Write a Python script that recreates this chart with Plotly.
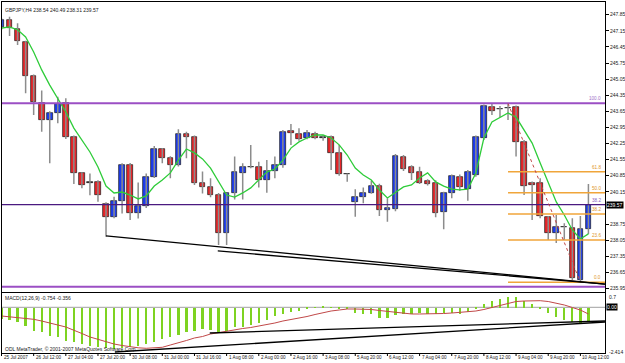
import plotly.graph_objects as go

W, H = 625, 363
FONT = "Liberation Sans"

# ---------------- data ----------------
header_text = "GBPJPY,H4 238.54 240.49 238.31 239.57"
bars = list(range(74))
opens = [247.31, 247.62, 247.23, 246.68, 245.20, 244.02, 243.27, 243.59, 244.00, 242.55,
         240.95, 240.53, 240.59, 239.61, 239.04, 239.76, 241.32, 239.21, 239.53, 240.81,
         242.00, 241.61, 241.32, 242.66, 242.55, 240.55, 240.35, 240.01, 238.37, 240.08,
         240.98, 241.21, 241.21, 240.66, 241.07, 241.32, 242.81, 242.66, 242.50, 242.66,
         242.49, 242.52, 241.85, 240.91, 239.72, 239.94, 240.11, 240.40, 239.36, 239.39,
         241.65, 241.21, 241.03, 240.63, 240.55, 239.29, 240.08, 240.81, 240.26, 240.88,
         242.47, 243.82, 243.74, 243.78, 243.82, 242.33, 240.55, 240.55, 239.07, 238.35,
         238.61, 238.56, 236.32, 238.54]
highs = [247.70, 247.76, 247.48, 246.72, 245.25, 244.55, 243.65, 244.28, 244.22, 242.60,
         241.00, 240.95, 240.65, 239.70, 239.94, 241.39, 241.40, 240.55, 240.95, 242.14,
         242.05, 241.70, 242.87, 242.76, 242.60, 241.03, 240.74, 240.10, 240.10, 241.68,
         241.39, 242.18, 241.46, 241.53, 241.68, 242.84, 243.10, 242.91, 242.84, 242.76,
         242.62, 242.60, 242.19, 240.95, 240.26, 240.34, 240.63, 240.50, 239.87, 241.79,
         241.75, 241.30, 241.24, 240.70, 240.65, 240.15, 240.90, 240.90, 241.10, 242.60,
         243.95, 243.97, 243.88, 243.99, 243.90, 242.40, 240.60, 240.74, 239.10, 239.14,
         238.78, 239.00, 239.10, 240.49]
lows = [247.20, 246.92, 246.53, 244.43, 243.49, 242.76, 241.39, 243.13, 242.45, 240.49,
        240.30, 240.00, 239.72, 238.20, 239.00, 239.21, 238.92, 238.99, 239.45, 240.75,
        241.39, 240.74, 241.25, 241.61, 240.45, 240.08, 239.91, 237.84, 237.84, 239.82,
        239.82, 241.17, 240.34, 240.11, 240.74, 241.20, 242.19, 242.37, 242.43, 242.43,
        242.37, 241.10, 240.85, 240.59, 239.07, 239.65, 240.06, 239.10, 238.85, 239.30,
        241.05, 240.66, 240.49, 240.42, 239.04, 238.52, 239.87, 240.20, 239.76, 240.80,
        242.40, 243.49, 243.40, 243.27, 241.68, 240.01, 238.92, 239.00, 238.05, 237.92,
        238.05, 236.32, 236.22, 238.31]
closes = [247.62, 247.28, 246.72, 245.20, 244.07, 243.27, 243.59, 243.97, 242.55, 240.95,
          240.45, 240.53, 240.01, 239.04, 239.76, 241.32, 239.24, 239.53, 240.81, 242.00,
          241.61, 241.32, 242.66, 242.52, 240.52, 240.35, 240.01, 238.35, 240.08, 241.03,
          241.21, 241.21, 240.66, 241.07, 241.32, 242.77, 242.69, 242.43, 242.69, 242.47,
          242.49, 241.82, 240.91, 240.91, 239.91, 240.11, 240.40, 239.36, 239.43, 241.71,
          241.13, 240.98, 240.55, 240.49, 239.24, 240.08, 240.84, 240.35, 241.00, 242.52,
          243.88, 243.66, 243.74, 243.78, 242.33, 240.40, 240.45, 239.10, 238.35, 238.63,
          238.61, 236.39, 238.52, 239.57]
ma_values = [247.27, 247.32, 247.19, 246.88, 246.23, 245.45, 244.79, 244.23, 243.62, 242.92,
             242.40, 241.88, 241.23, 240.40, 240.10, 240.14, 240.01, 239.84, 239.97, 240.40,
             240.66, 240.97, 241.53, 242.01, 241.84, 241.58, 241.18, 240.58, 240.01, 239.92,
             240.10, 240.32, 240.66, 241.01, 241.14, 241.53, 242.05, 242.32, 242.49, 242.62,
             242.62, 242.49, 242.19, 241.75, 241.18, 240.88, 240.66, 240.23, 239.88, 240.14,
             240.36, 240.45, 240.75, 240.97, 240.58, 240.40, 240.27, 240.23, 240.27, 240.97,
             242.49, 243.19, 243.40, 243.58, 243.40, 242.84, 242.27, 241.40, 240.53, 239.71,
             239.14, 238.49, 238.10, 238.32]
macd_hist = [-0.584, -0.637, -0.760, -0.937, -1.201, -1.289, -1.466, -1.554, -1.730, -1.819,
             -1.907, -1.995, -2.083, -2.118, -2.171, -2.136, -2.048, -1.995, -1.907, -1.819,
             -1.642, -1.554, -1.413, -1.289, -1.201, -1.113, -1.166, -1.289, -1.201, -1.025,
             -1.025, -0.884, -0.813, -0.637, -0.460, -0.319, -0.231, -0.143, -0.072, 0.020,
             0.050, 0.030, -0.020, -0.060, -0.284, -0.319, -0.354, -0.531, -0.531, -0.407,
             -0.319, -0.319, -0.284, -0.319, -0.319, -0.284, -0.284, -0.319, -0.231, -0.054,
             0.175, 0.351, 0.475, 0.598, 0.562, 0.351, 0.210, -0.020, -0.284, -0.496,
             -0.637, -0.760, -0.813, -0.754]
macd_signal = [-0.460, -0.497, -0.529, -0.582, -0.635, -0.725, -0.815, -0.937, -1.042, -1.201,
               -1.386, -1.571, -1.704, -1.836, -1.942, -2.021, -2.090, -2.143, -2.169, -2.153,
               -2.116, -1.995, -1.889, -1.757, -1.624, -1.545, -1.413, -1.333, -1.254, -1.201,
               -1.122, -1.069, -0.989, -0.937, -0.831, -0.725, -0.646, -0.593, -0.487, -0.381,
               -0.275, -0.196, -0.143, -0.090, -0.090, -0.090, -0.116, -0.169, -0.222, -0.275,
               -0.328, -0.354, -0.354, -0.354, -0.344, -0.328, -0.302, -0.275, -0.249, -0.196,
               -0.116, -0.011, 0.122, 0.228, 0.307, 0.333, 0.349, 0.349, 0.307, 0.228,
               0.122, -0.011, -0.143, -0.356]
macd_title = "MACD(12,26,9) -0.754 -0.356"
copyright_text = "ODL MetaTrader, \u00a9 2001-2007 MetaQuotes Software Corp."
time_label_bars = [0, 4, 8, 12, 16, 20, 24, 28, 32, 36, 40, 44, 48, 52, 56, 60, 64, 68, 72]
time_labels = ["25 Jul 2007", "26 Jul 12:00", "27 Jul 04:00", "27 Jul 20:00", "30 Jul 08:00",
               "31 Jul 00:00", "31 Jul 16:00", "1 Aug 08:00", "2 Aug 00:00", "2 Aug 16:00",
               "3 Aug 08:00", "5 Aug 20:00", "6 Aug 12:00", "7 Aug 04:00", "7 Aug 20:00",
               "8 Aug 12:00", "9 Aug 04:00", "9 Aug 20:00", "10 Aug 12:00"]
price_ticks = [247.85, 247.15, 246.45, 245.75, 245.05, 244.35, 243.65, 242.95, 242.25,
               241.55, 240.85, 240.15, 238.75, 238.05, 237.35, 236.65, 235.95]
price_tick_labels = ["247.85", "247.15", "246.45", "245.75", "245.05", "244.35", "243.65",
                     "242.95", "242.25", "241.55", "240.85", "240.15", "238.75", "238.05",
                     "237.35", "236.65", "235.95"]
last_price = 239.57
macd_max_label, macd_min_label = "0.7", "-2.414"
fib_ratios = [0.0, 0.236, 0.382, 0.5, 0.618]
fib_names = ["0.0", "23.6", "38.2", "50.0", "61.8"]
fib_high, fib_low = 243.99, 236.22
fib_high_bar, fib_low_bar = 63, 72
hlines_purple = [244.00, 236.02]
hline_indigo = 239.59
trend_main = [((13.0, 238.23), (75.06, 236.14)), ((26.9, 237.58), (75.06, 236.14))]
trend_macd = [((14.1, -2.365), (75.06, -0.778)), ((25.9, -1.36), (75.06, -0.725))]

# ---------------- geometry (pixels) ----------------
BAR_PX0, BAR_STEP = 1.5, 8.04
PLOT_L, PLOT_R = 2, 605
MAIN_T, MAIN_B = 2, 291.5
SUB_T, SUB_B = 292.5, 353
PRICE_AT0, PX_PER_PRICE = 248.489, 23.0
MACD_ZERO_PX, PX_PER_MACD = 307.3, 18.9

def px2bar(px):
    return (px - BAR_PX0) / BAR_STEP

def bar2paper(b):
    return (BAR_PX0 + BAR_STEP * b) / W

def py2price(py):
    return PRICE_AT0 - py / PX_PER_PRICE

def py2macd(py):
    return (MACD_ZERO_PX - py) / PX_PER_MACD

def pyp(py):
    return 1 - py / H

xrange_ = [px2bar(PLOT_L), px2bar(PLOT_R)]

# ---------------- traces ----------------
fig = go.Figure()

wx, wy = [], []
for b, lo, hi in zip(bars, lows, highs):
    wx += [b, b, None]
    wy += [lo, hi, None]
fig.add_trace(go.Scatter(x=wx, y=wy, mode="lines", line=dict(color="#8c8c8c", width=1.5),
                         hoverinfo="skip", xaxis="x", yaxis="y"))

bases = [min(o, c) for o, c in zip(opens, closes)]
heights = [max(abs(c - o), 0.03) for o, c in zip(opens, closes)]
colors = ["#1d3cf0" if c > o else ("#e8262a" if c < o else "#222222") for o, c in zip(opens, closes)]
fig.add_trace(go.Bar(x=bars, y=heights, base=bases, width=0.7,
                     marker=dict(color=colors, line=dict(color="#1a1a1a", width=0.7)),
                     xaxis="x", yaxis="y"))

fig.add_trace(go.Scatter(x=bars, y=ma_values, mode="lines", line=dict(color="#2fcc3a", width=1.3),
                         xaxis="x", yaxis="y"))

fig.add_trace(go.Bar(x=bars, y=macd_hist, width=0.28, marker=dict(color="#7ed321", line=dict(width=0)),
                     xaxis="x2", yaxis="y2"))
fig.add_trace(go.Scatter(x=bars, y=macd_signal, mode="lines", line=dict(color="#c04848", width=1),
                         xaxis="x2", yaxis="y2"))

# ---------------- shapes ----------------
shapes = []
for lvl in hlines_purple:
    shapes.append(dict(type="line", xref="x domain", x0=0, x1=1, yref="y", y0=lvl, y1=lvl,
                       line=dict(color="#9b4fc4", width=2)))
shapes.append(dict(type="line", xref="x domain", x0=0, x1=1, yref="y", y0=hline_indigo, y1=hline_indigo,
                   line=dict(color="#4a1a80", width=1.2)))
for r in fib_ratios:
    lvl = fib_low + r * (fib_high - fib_low)
    shapes.append(dict(type="line", xref="x", x0=fib_high_bar, x1=xrange_[1], yref="y", y0=lvl, y1=lvl,
                       line=dict(color="#f0a53a", width=1.5)))
shapes.append(dict(type="line", xref="x", x0=fib_high_bar, x1=fib_low_bar, yref="y", y0=fib_high, y1=fib_low,
                   line=dict(color="#c04848", width=1, dash="dot")))
for (x0, y0), (x1, y1) in trend_main:
    shapes.append(dict(type="line", xref="x", yref="y", x0=x0, y0=y0, x1=x1, y1=y1,
                       line=dict(color="black", width=1.3)))
for (x0, y0), (x1, y1) in trend_macd:
    shapes.append(dict(type="line", xref="x2", yref="y2", x0=x0, y0=y0, x1=x1, y1=y1,
                       line=dict(color="black", width=1.3)))
shapes.append(dict(type="line", xref="x2 domain", x0=0, x1=1, yref="y2", y0=0, y1=0,
                   line=dict(color="#a0a0a0", width=1), layer="below"))
for b in time_label_bars:
    shapes.append(dict(type="line", xref="paper", yref="paper", x0=bar2paper(b), x1=bar2paper(b),
                       y0=pyp(SUB_B), y1=pyp(SUB_B + 3), line=dict(color="black", width=1)))

# ---------------- annotations ----------------
ann = []
def txt(text, x, y, xref="paper", yref="paper", xanchor="left", yanchor="middle", size=5,
        color="#202020", **kw):
    ann.append(dict(text=text, x=x, y=y, xref=xref, yref=yref, xanchor=xanchor, yanchor=yanchor,
                    showarrow=False, font=dict(family=FONT, size=size, color=color), **kw))

txt(header_text, 3 / W, pyp(10))
txt(macd_title, 3 / W, pyp(297.7))
txt(copyright_text, 3 / W, pyp(349))
for b, lab in zip(time_label_bars, time_labels):
    txt(lab, bar2paper(b), pyp(357.8), size=4.6)
txt(f"{last_price:.2f}", 606 / W, last_price, yref="y", color="white", bgcolor="black", borderpad=0)
txt(macd_max_label, 607 / W, pyp(296.7))
txt(macd_min_label, 607 / W, pyp(351.5))
txt("0.00", 606 / W, 0, yref="y2", color="white", bgcolor="black", borderpad=0)
for r, name in zip(fib_ratios, fib_names):
    lvl = fib_low + r * (fib_high - fib_low)
    txt(name, 603 / W, lvl, yref="y", xanchor="right", yanchor="bottom", size=4.6, color="#e0962a")
txt("100.0", 603 / W, hlines_purple[0], yref="y", xanchor="right", yanchor="bottom", size=4.6, color="#a070c8")
txt("38.2", 603 / W, hline_indigo, yref="y", xanchor="right", yanchor="bottom", size=4.6, color="#8a60c0")

# ---------------- layout ----------------
axis_common = dict(showgrid=False, zeroline=False, showline=True, mirror=True,
                   linecolor="black", linewidth=1)
fig.update_layout(
    width=W, height=H, margin=dict(l=0, r=0, t=0, b=0),
    paper_bgcolor="white", plot_bgcolor="white", showlegend=False,
    barmode="overlay", bargap=0,
    font=dict(family=FONT, size=5, color="#202020"),
    xaxis=dict(domain=[PLOT_L / W, PLOT_R / W], range=xrange_, showticklabels=False, ticks="",
               anchor="y", **axis_common),
    yaxis=dict(domain=[pyp(MAIN_B), pyp(MAIN_T)], range=[py2price(MAIN_B), py2price(MAIN_T)],
               side="right", tickvals=price_ticks, ticktext=price_tick_labels, ticks="outside",
               ticklen=3, tickcolor="black", tickfont=dict(family=FONT, size=5, color="#202020"),
               anchor="x", **axis_common),
    xaxis2=dict(domain=[PLOT_L / W, PLOT_R / W], range=xrange_, showticklabels=False, ticks="",
                anchor="y2", **axis_common),
    yaxis2=dict(domain=[pyp(SUB_B), pyp(SUB_T)], range=[py2macd(SUB_B), py2macd(SUB_T)],
                showticklabels=False, ticks="", side="right", anchor="x2", **axis_common),
    shapes=shapes, annotations=ann,
)

fig.write_html("out.html")
